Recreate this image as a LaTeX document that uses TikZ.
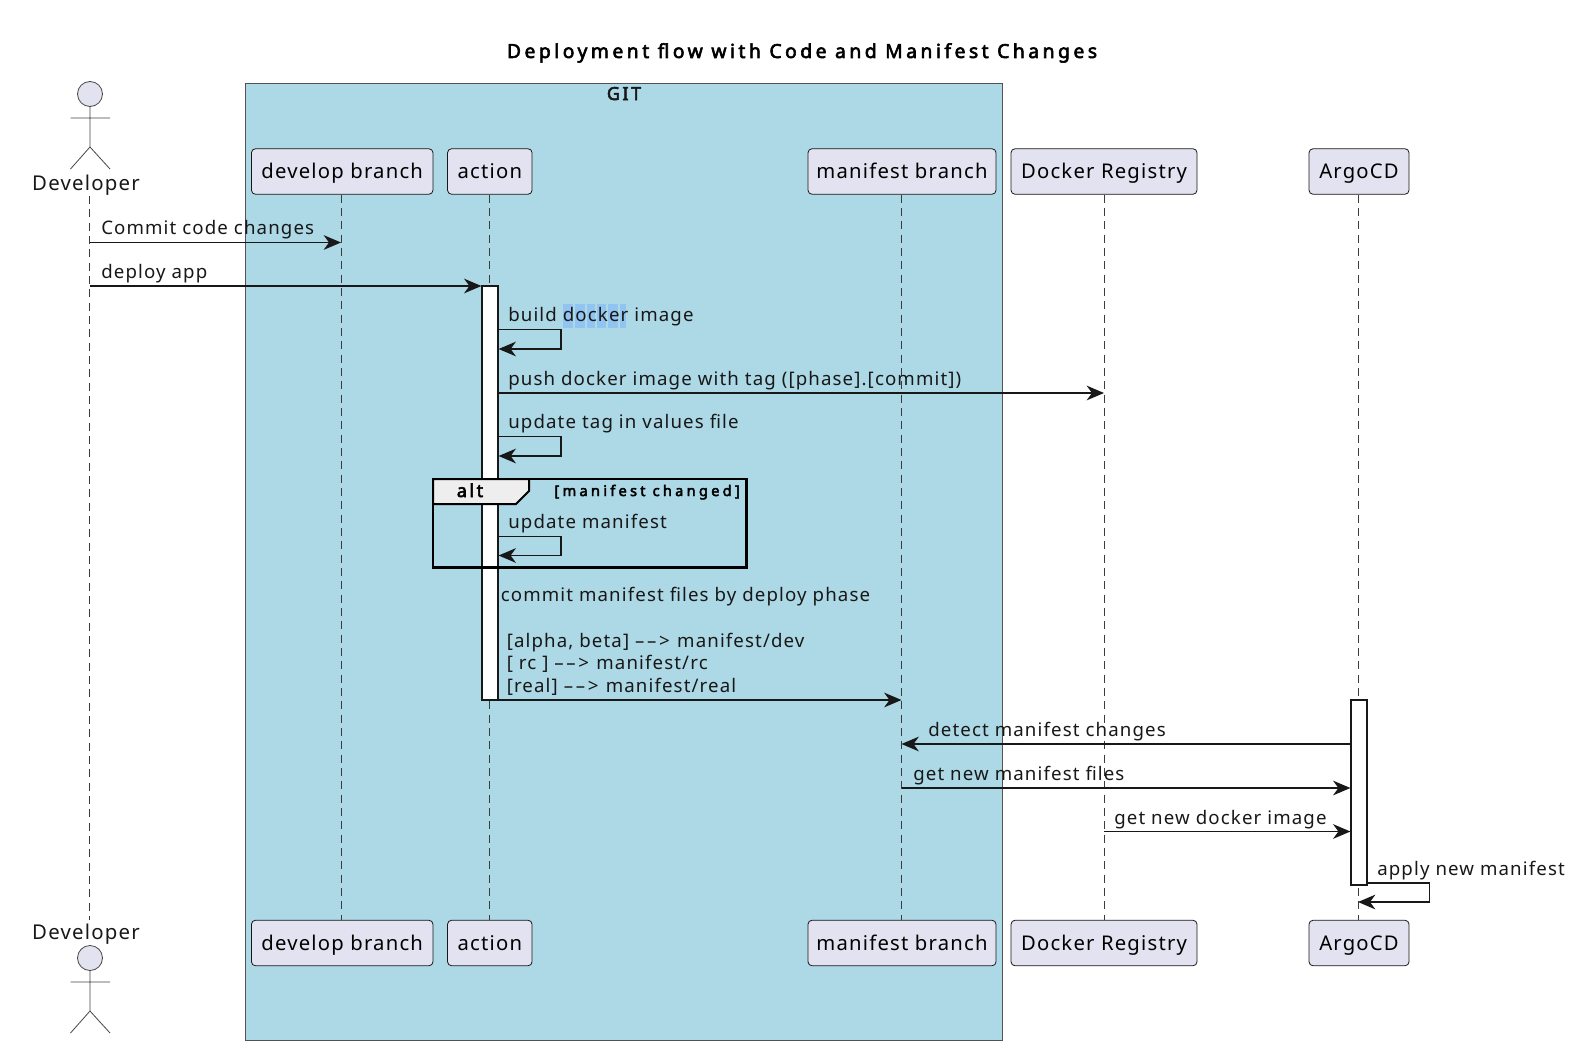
\documentclass[tikz,border=0pt]{standalone}
\usepackage{fontspec}
\setmainfont[LetterSpace=6]{Noto Sans}
\newfontfamily\boldface[LetterSpace=14,FakeBold=3]{Noto Sans}
\newfontfamily\titleface[LetterSpace=18,FakeBold=3]{Noto Sans}
\newfontfamily\condface[LetterSpace=22,FakeBold=3]{Noto Sans}
\newcommand{\longarrow}{\textendash\kern2pt\textendash\kern2pt>\kern1pt}
\usetikzlibrary{arrows.meta}
\definecolor{partfill}{HTML}{E2E2F0}
\definecolor{gitblue}{HTML}{ADD8E6}
\definecolor{ink}{HTML}{181818}
\definecolor{hl}{HTML}{92C4F2}
\definecolor{tabfill}{HTML}{EEEEEE}
\tikzset{
  x=0.75pt,y=-0.75pt,
  part/.style={draw=ink,line width=0.6pt,fill=partfill,rounded corners=3pt,inner sep=0,text height=12.5pt,text depth=2pt,font=\fontsize{15.2}{18}\selectfont},
  life/.style={draw=ink!85,line width=0.6pt,dash pattern=on 6pt off 4pt},
  msg/.style={draw=ink,line width=1pt,-{Stealth[length=13pt,width=11pt,inset=4pt]}},
  txt/.style={anchor=base west,inner sep=0,text=ink,font=\fontsize{14}{17}\selectfont},
  actorname/.style={anchor=base,inner sep=0,text=ink,font=\fontsize{15.3}{18}\selectfont},
  figure/.style={draw=ink!80,line width=0.6pt},
  act/.style={draw=ink,line width=0.9pt,fill=white},
  hlcell/.style={fill=hl},
}
\begin{document}
\begin{tikzpicture}
\useasboundingbox (0,0) rectangle (1584,1056);
\fill[white] (0,0) rectangle (1584,1056);
\node[anchor=base,inner sep=0,text=black,font=\titleface\fontsize{14.5}{17}\selectfont] (title) at (802,58) {Deployment flow with Code and Manifest Changes};
\draw[draw=ink!75,line width=0.7pt,fill=gitblue] (245,83) rectangle (1002,1040);
\node[anchor=base,inner sep=0,text=ink,font=\boldface\fontsize{13.5}{17}\selectfont] (git) at (624,100) {GIT};
% participants
\newcommand{\partbox}[5]{\node[part,minimum width=#4*0.75pt,minimum height=45.5*0.75pt] (#1) at (#2,#3) {#5};}
\partbox{devtop}{342.2}{171.5}{181.5}{develop branch}
\partbox{acttop}{489.8}{171.5}{84.5}{action}
\partbox{mantop}{902}{171.5}{188}{manifest branch}
\partbox{doctop}{1104}{171.5}{186}{Docker Registry}
\partbox{argtop}{1359}{171.5}{100}{ArgoCD}
\partbox{devbot}{342.2}{943}{181.5}{develop branch}
\partbox{actbot}{489.8}{943}{84.5}{action}
\partbox{manbot}{902}{943}{188}{manifest branch}
\partbox{docbot}{1104}{943}{186}{Docker Registry}
\partbox{argbot}{1359}{943}{100}{ArgoCD}
\coordinate (Ldev) at (341,0);
\coordinate (Lact) at (489.5,0);
\coordinate (Lman) at (901.5,0);
\coordinate (Ldoc) at (1104,0);
\coordinate (Larg) at (1358,0);
\coordinate (Lop) at (89.5,0);
% lifelines
\node[actorname] (optop) at (86,190) {Developer};
\node[actorname] (opbot) at (86,939) {Developer};
\draw[life] (Lop|-0,196) coordinate (optl) -- (Lop|-0,920) coordinate (opbl);
\draw[life] (Ldev|-devtop.south) -- (Ldev|-devbot.north);
\draw[life] (Lact|-acttop.south) -- (Lact|-actbot.north);
\draw[life] (Lman|-mantop.south) -- (Lman|-manbot.north);
\draw[life] (Ldoc|-doctop.south) -- (Ldoc|-docbot.north);
\draw[life] (Larg|-argtop.south) -- (Larg|-argbot.north);
% actors
\draw[figure,fill=partfill] (90,94) circle (12.5);
\draw[figure] (90,106.5) -- (90,147) (70.5,118) -- (110,118) (70.5,169) -- (90,147) -- (110,169);
\draw[figure,fill=partfill] (90,958) circle (12.5);
\draw[figure] (90,970.5) -- (90,1011) (70.5,982) -- (110,982) (70.5,1033) -- (90,1011) -- (110,1033);
% activations
\node[act,minimum width=16*0.75pt,minimum height=414*0.75pt,inner sep=0] (actbar) at (490,493) {};
\node[act,minimum width=16*0.75pt,minimum height=185*0.75pt,inner sep=0] (argbar) at (1359,792.5) {};
% highlight
\fill[hlcell] (563,304) rectangle (573.3,328);
\fill[hlcell] (575,304) rectangle (585,328);
\fill[hlcell] (586.7,304) rectangle (595.3,328);
\fill[hlcell] (597.3,304) rectangle (606.3,328);
\fill[hlcell] (608,304) rectangle (618,328);
\fill[hlcell] (620,304) rectangle (626.3,328);
% messages
\draw[msg] (Lop|-0,242.5) -- (Ldev|-0,242.5);
\draw[msg] (Lop|-0,286) -- (actbar.west|-0,286);
\draw[msg] (actbar.east|-0,329.5) -- (561,329.5) -- (561,349) -- (actbar.east|-0,349);
\draw[msg] (actbar.east|-0,393) -- (Ldoc|-0,393);
\draw[msg] (actbar.east|-0,436.5) -- (561,436.5) -- (561,456) -- (actbar.east|-0,456);
\draw[msg] (actbar.east|-0,536.5) -- (561,536.5) -- (561,555.5) -- (actbar.east|-0,555.5);
\draw[msg] (actbar.east|-0,700) -- (Lman|-0,700);
\draw[msg] (argbar.west|-0,744) -- (Lman|-0,744);
\draw[msg] (Lman|-0,788) -- (argbar.west|-0,788);
\draw[msg] (Ldoc|-0,831.5) -- (argbar.west|-0,831.5);
\draw[msg] (argbar.south east|-0,883) -- (1429.5,883) -- (1429.5,902) -- (Larg|-0,902);
% alt
\draw[draw=black,line width=2pt] (433,479) rectangle (746.5,567.5);
\draw[draw=black,line width=1.5pt,fill=tabfill] (433,479) -- (529,479) -- (529,491) -- (516,504) -- (433,504) -- cycle;
\node[anchor=base,inner sep=0,text=black,font=\boldface\fontsize{13.5}{17}\selectfont] (alttag) at (470,497) {alt};
\node[anchor=base east,inner sep=0,text=black,font=\condface\fontsize{11}{13}\selectfont] (altcond) at (740,496) {[manifest changed]};
% labels
\node[txt] (l1) at (101,234) {Commit code changes};
\node[txt] (l2) at (101,278) {deploy app};
\node[txt] (l3) at (508,321) {build docker image};
\node[txt] (l4) at (508,385) {push docker image with tag ([phase].[commit])};
\node[txt] (l5) at (508,428) {update tag in values file};
\node[txt] (l6) at (508,528) {update manifest};
\node[txt] (l7) at (500.5,601) {commit manifest files by deploy phase};
\node[txt] (l8) at (506.5,647) {[alpha, beta] \longarrow{} manifest/dev};
\node[txt] (l9) at (506.5,669) {[ rc ] \longarrow{} manifest/rc};
\node[txt] (l10) at (506.5,692) {[real] \longarrow{} manifest/real};
\node[txt] (l11) at (928,736) {detect manifest changes};
\node[txt] (l12) at (913,780) {get new manifest files};
\node[txt] (l13) at (1114,824) {get new docker image};
\node[txt] (l14) at (1377,875) {apply new manifest};
\end{tikzpicture}
\end{document}
